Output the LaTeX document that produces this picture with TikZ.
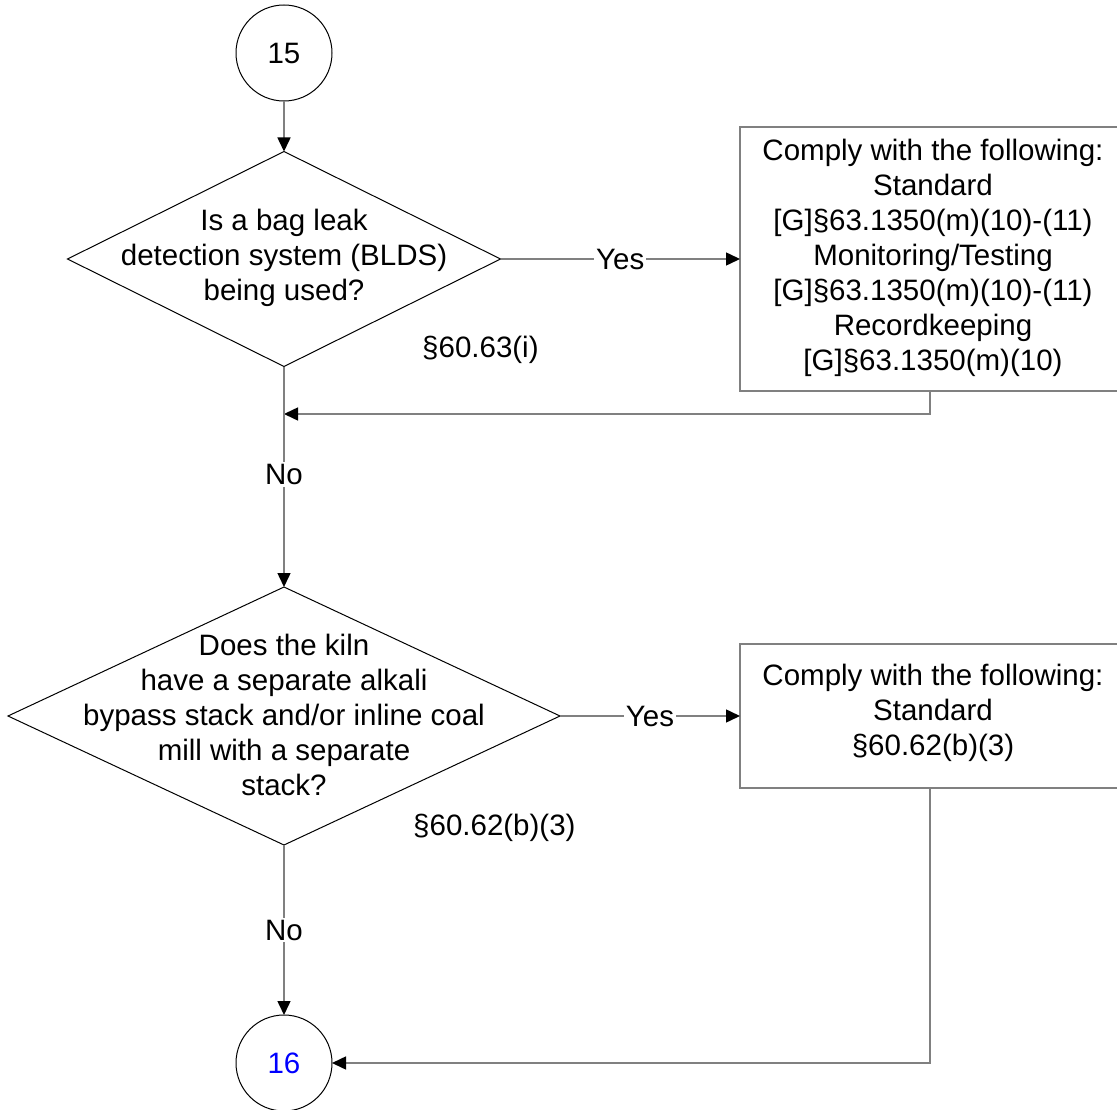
\documentclass[tikz,border=0pt]{standalone}
\usepackage{fontspec}
\setmainfont{Liberation Sans}
\usetikzlibrary{shapes.geometric,arrows.meta}
\definecolor{linegray}{RGB}{128,128,128}
\definecolor{numblue}{RGB}{0,0,255}
\tikzset{
  txt/.style={align=center,font=\fontsize{29.5}{35}\selectfont,inner sep=0pt},
  conn/.style={draw=linegray,line width=1.5pt,-{Triangle[color=black,length=14pt,width=13pt]}},
  lab/.style={fill=white,inner sep=2pt,font=\fontsize{29.5}{35}\selectfont},
  dia/.style={diamond,draw=black,line width=1pt,inner sep=0pt,outer sep=0pt},
  conncirc/.style={circle,draw=black,line width=1pt,minimum size=96pt,inner sep=0pt,outer sep=0pt,font=\fontsize{29.5}{35}\selectfont},
  actbox/.style={rectangle,draw=linegray,line width=1.5pt,inner sep=0pt,outer sep=0pt}
}
\begin{document}
\begin{tikzpicture}[x=1pt,y=-1pt]
\useasboundingbox[fill=white] (0,0) rectangle (1117,1110);
% connector circles
\node[conncirc] (c15) at (284,53) {15};
\node[conncirc,text=numblue] (c16) at (284,1063) {16};
% decision 1
\node[dia,minimum width=433pt,minimum height=215pt] (d1) at (284,259) {};
\node[txt] (d1t) at (284,258) {Is a bag leak\\detection system (BLDS)\\being used?};
\node[txt,anchor=west] (d1r) at (422,350) {§60.63(i)};
% action box 1
\node[actbox,minimum width=380pt,minimum height=264pt] (b1) at (930,259) {};
\node[txt] (b1t) at (933,258) {Comply with the following:\\Standard\\{[G]§63.1350(m)(10)-(11)}\\Monitoring/Testing\\{[G]§63.1350(m)(10)-(11)}\\Recordkeeping\\{[G]§63.1350(m)(10)}};
% decision 2
\node[dia,minimum width=552pt,minimum height=258pt] (d2) at (284,716) {};
\node[txt] (d2t) at (284,715) {Does the kiln\\have a separate alkali\\bypass stack and/or inline coal\\mill with a separate\\stack?};
\node[txt,anchor=west] (d2r) at (413,828) {§60.62(b)(3)};
% action box 2
\node[actbox,minimum width=380pt,minimum height=144pt] (b2) at (930,716) {};
\node[txt] (b2t) at (933,713) {Comply with the following:\\Standard\\§60.62(b)(3)};
% junction
\coordinate (j1) at (284,414);
% connectors
\draw[conn] (c15) -- (d1.north);
\draw[conn] (d1.east) -- node[lab] {Yes} (b1.west);
\draw[conn] (b1.south) |- (j1);
\draw[conn] (d1.south) -- node[lab,pos=0.49] {No} (d2.north);
\draw[conn] (d2.east) -- node[lab] {Yes} (b2.west);
\draw[conn] (b2.south) |- (c16.east);
\draw[conn] (d2.south) -- node[lab,pos=0.5] {No} (c16.north);
\end{tikzpicture}
\end{document}
